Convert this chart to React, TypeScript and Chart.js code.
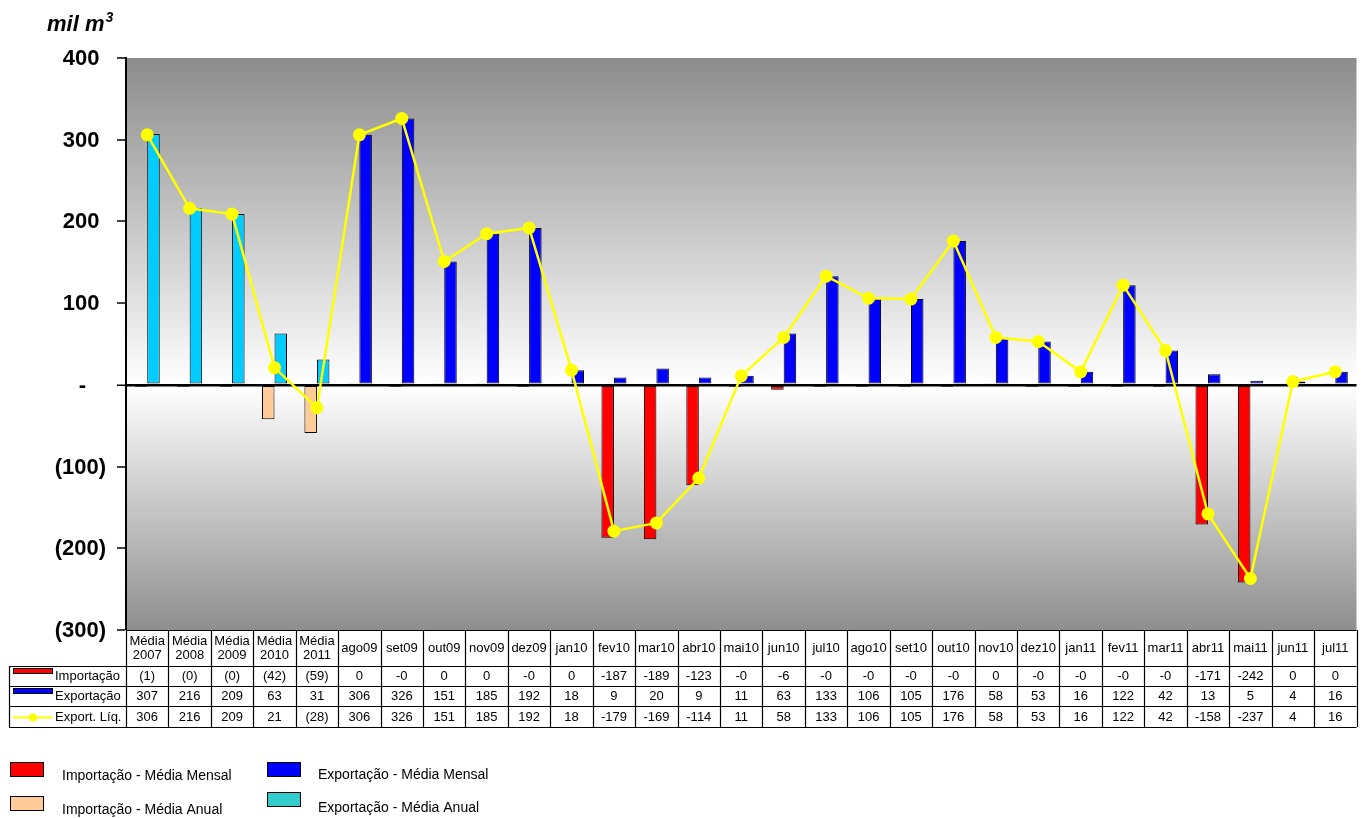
import React, { useEffect, useRef } from 'react';
import { Chart, registerables } from 'chart.js';

Chart.register(...registerables);

const FONT = '"Liberation Sans", Arial, Helvetica, sans-serif';

const categories = [
  'Média 2007', 'Média 2008', 'Média 2009', 'Média 2010', 'Média 2011',
  'ago09', 'set09', 'out09', 'nov09', 'dez09', 'jan10', 'fev10', 'mar10', 'abr10',
  'mai10', 'jun10', 'jul10', 'ago10', 'set10', 'out10', 'nov10', 'dez10', 'jan11',
  'fev11', 'mar11', 'abr11', 'mai11', 'jun11', 'jul11',
];

// Importação (values shown as "-0" are tiny negatives)
const importacao = [
  -1, -0.3, -0.3, -42, -59,
  0, -0.3, 0, 0, -0.3, 0, -187, -189, -123, -0.3, -6, -0.3, -0.3, -0.3, -0.3, 0,
  -0.3, -0.3, -0.3, -0.3, -171, -242, 0, 0,
];
const importacaoText = [
  '(1)', '(0)', '(0)', '(42)', '(59)',
  '0', '-0', '0', '0', '-0', '0', '-187', '-189', '-123', '-0', '-6', '-0', '-0', '-0', '-0', '0',
  '-0', '-0', '-0', '-0', '-171', '-242', '0', '0',
];
const exportacao = [
  307, 216, 209, 63, 31,
  306, 326, 151, 185, 192, 18, 9, 20, 9, 11, 63, 133, 106, 105, 176, 58,
  53, 16, 122, 42, 13, 5, 4, 16,
];
const exportLiq = [
  306, 216, 209, 21, -28,
  306, 326, 151, 185, 192, 18, -179, -169, -114, 11, 58, 133, 106, 105, 176, 58,
  53, 16, 122, 42, -158, -237, 4, 16,
];

const yTicks = [400, 300, 200, 100, 0, -100, -200, -300];

const rowLabels = ['Importação', 'Exportação', 'Export. Líq.'];
const legendLabels = [
  'Importação - Média Mensal',
  'Exportação - Média Mensal',
  'Importação - Média Anual',
  'Exportação - Média Anual',
];

const isAnnual = (c: string) => c.startsWith('Média');
const fmtVal = (v: number, annual: boolean) => (v < 0 && annual ? `(${-v})` : `${v}`);
const fmtTick = (v: number) => (v > 0 ? `${v}` : v < 0 ? `(${-v})` : '-');

const decorPlugin = {
  id: 'decor',
  beforeDraw(chart: any) {
    const { ctx, chartArea: a, scales } = chart;
    const y0 = scales.y.getPixelForValue(0);
    const f = (y0 - a.top) / (a.bottom - a.top);
    const g = ctx.createLinearGradient(0, a.top, 0, a.bottom);
    g.addColorStop(0, '#8c8c8c');
    g.addColorStop(f, '#ffffff');
    g.addColorStop(1, '#8e8e8e');
    ctx.save();
    ctx.fillStyle = g;
    ctx.fillRect(a.left, a.top, a.right - a.left, a.bottom - a.top);
    ctx.restore();
  },
  afterDraw(chart: any) {
    const { ctx, chartArea: a, scales } = chart;
    const xs = scales.x;
    const ys = scales.y;
    ctx.save();

    // unit title
    ctx.fillStyle = '#000';
    ctx.textBaseline = 'alphabetic';
    ctx.textAlign = 'left';
    ctx.font = `italic bold 22px ${FONT}`;
    ctx.fillText('mil m', 47, 31);
    const w = ctx.measureText('mil m').width;
    ctx.font = `italic bold 14px ${FONT}`;
    ctx.fillText('3', 47 + w + 1, 22);

    // y tick labels (accounting-style)
    ctx.font = `bold 22px ${FONT}`;
    ctx.textBaseline = 'middle';
    ctx.textAlign = 'right';
    ys.ticks.forEach((t: any) => {
      const v = t.value;
      const y = ys.getPixelForValue(v);
      const right = v < 0 ? 106 : v > 0 ? 99.5 : 86;
      ctx.fillText(fmtTick(v), right, y + 1);
    });

    // data table
    const n = categories.length;
    const cw = (a.right - a.left) / n;
    const hTop = a.bottom;
    const hBot = 666;
    const rows = [666, 686, 706, 727];
    const tLeft = 9;
    ctx.strokeStyle = '#000';
    ctx.lineWidth = 1.2;
    ctx.beginPath();
    for (let i = 0; i <= n; i++) {
      const x = Math.round(a.left + i * cw) + 0.5;
      ctx.moveTo(x, hTop);
      ctx.lineTo(x, rows[3]);
    }
    ctx.moveTo(a.left, hTop + 0.5);
    ctx.lineTo(a.right, hTop + 0.5);
    rows.forEach((r) => {
      ctx.moveTo(tLeft, r + 0.5);
      ctx.lineTo(a.right, r + 0.5);
    });
    ctx.moveTo(tLeft + 0.5, rows[0]);
    ctx.lineTo(tLeft + 0.5, rows[3]);
    ctx.stroke();

    ctx.fillStyle = '#000';
    ctx.font = `13px ${FONT}`;
    ctx.textAlign = 'center';
    ctx.textBaseline = 'middle';
    categories.forEach((c, i) => {
      const x = xs.getPixelForValue(i);
      const parts = c.split(' ');
      if (parts.length > 1) {
        ctx.fillText(parts[0], x, 641);
        ctx.fillText(parts[1], x, 655);
      } else {
        ctx.fillText(c, x, 648);
      }
      const ann = isAnnual(c);
      ctx.fillText(importacaoText[i], x, 676);
      ctx.fillText(fmtVal(exportacao[i], ann), x, 696.5);
      ctx.fillText(fmtVal(exportLiq[i], ann), x, 717);
    });

    // row headers
    ctx.textAlign = 'left';
    ctx.fillText(rowLabels[0], 55, 676);
    ctx.fillText(rowLabels[1], 55, 696.5);
    ctx.fillText(rowLabels[2], 55, 717);
    ctx.lineWidth = 1;
    ctx.fillStyle = '#ff0000';
    ctx.fillRect(13, 668, 39, 5);
    ctx.strokeRect(13.5, 668.5, 39, 5);
    ctx.fillStyle = '#0000ff';
    ctx.fillRect(13, 688, 39, 5);
    ctx.strokeRect(13.5, 688.5, 39, 5);
    ctx.strokeStyle = '#ffff00';
    ctx.lineWidth = 2;
    ctx.beginPath();
    ctx.moveTo(13, 717.5);
    ctx.lineTo(52, 717.5);
    ctx.stroke();
    ctx.fillStyle = '#ffff00';
    ctx.beginPath();
    ctx.arc(33, 717.5, 4, 0, Math.PI * 2);
    ctx.fill();

    // bottom legend
    const sw = [
      { x: 10, y: 762, tx: 62, ty: 776, c: '#ff0000' },
      { x: 267, y: 762, tx: 318, ty: 775, c: '#0000ff' },
      { x: 10, y: 796, tx: 62, ty: 810, c: '#ffcc99' },
      { x: 267, y: 792, tx: 318, ty: 808, c: '#33cccc' },
    ];
    ctx.font = `14px ${FONT}`;
    ctx.lineWidth = 1;
    ctx.strokeStyle = '#000';
    sw.forEach((s, i) => {
      ctx.fillStyle = s.c;
      ctx.fillRect(s.x, s.y, 33, 14);
      ctx.strokeRect(s.x + 0.5, s.y + 0.5, 33, 14);
      ctx.fillStyle = '#000';
      ctx.fillText(legendLabels[i], s.tx, s.ty);
    });
    ctx.restore();
  },
};

export default function App() {
  const ref = useRef<HTMLCanvasElement | null>(null);
  useEffect(() => {
    if (!ref.current) return;
    const importColors = categories.map((c) => (isAnnual(c) ? '#ffcc99' : '#ff0000'));
    const exportColors = categories.map((c) => (isAnnual(c) ? '#00ccff' : '#0000ff'));
    const chart = new Chart(ref.current, {
      type: 'bar',
      data: {
        labels: categories,
        datasets: [
          {
            type: 'line',
            label: rowLabels[2],
            data: exportLiq,
            borderColor: '#ffff00',
            backgroundColor: '#ffff00',
            borderWidth: 2.5,
            pointRadius: 6.5,
            pointBackgroundColor: '#ffff00',
            pointBorderColor: '#ffff00',
            pointBorderWidth: 0,
            tension: 0,
            order: 0,
          } as any,
          {
            type: 'bar',
            label: rowLabels[0],
            data: importacao,
            backgroundColor: importColors,
            borderColor: '#000',
            borderWidth: 1,
            borderSkipped: false,
            minBarLength: 2,
            order: 1,
          },
          {
            type: 'bar',
            label: rowLabels[1],
            data: exportacao,
            backgroundColor: exportColors,
            borderColor: '#000',
            borderWidth: 1,
            borderSkipped: false,
            order: 1,
          },
        ],
      },
      options: {
        responsive: false,
        animation: false,
        devicePixelRatio: 1,
        layout: { padding: { left: 0, top: 58, right: 3, bottom: 188 } },
        datasets: { bar: { categoryPercentage: 0.59, barPercentage: 1 } },
        plugins: { legend: { display: false }, tooltip: { enabled: false } },
        scales: {
          x: { display: false, offset: true, grid: { display: false } },
          y: {
            min: yTicks[yTicks.length - 1],
            max: yTicks[0],
            ticks: { stepSize: 100, display: false },
            afterFit: (s: any) => {
              s.width = 126;
            },
            border: { display: true, color: '#000', width: 2 },
            grid: {
              display: true,
              drawOnChartArea: true,
              drawTicks: true,
              tickLength: 9,
              tickColor: '#000',
              tickWidth: 1.5,
              color: (c: any) => (c.tick && c.tick.value === 0 ? '#000' : 'rgba(0,0,0,0)'),
              lineWidth: (c: any) => (c.tick && c.tick.value === 0 ? 2.5 : 0),
            },
          },
        },
      },
      plugins: [decorPlugin],
    });
    return () => chart.destroy();
  }, []);
  return (
    <div style={{ position: 'absolute', left: 0, top: 0, width: 1363, height: 818, background: '#fff' }}>
      <canvas ref={ref} width={1363} height={818} />
    </div>
  );
}
